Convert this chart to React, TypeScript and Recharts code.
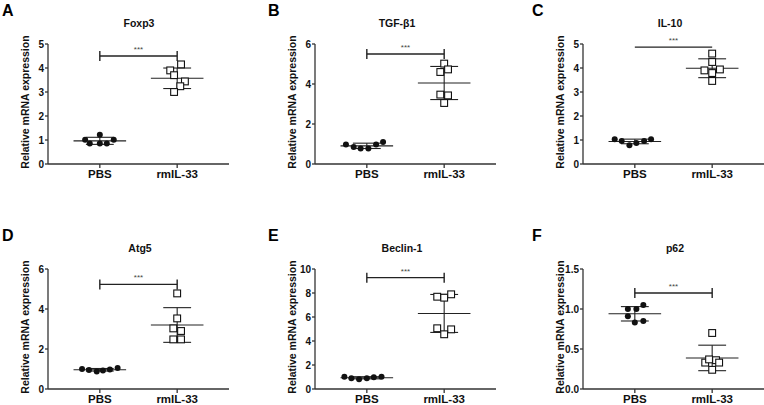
import React from "react";
import {
  ScatterChart,
  Scatter,
  XAxis,
  YAxis,
  ReferenceLine,
  ReferenceDot,
} from "recharts";

const groups = ["PBS", "rmIL-33"];

// values, one point per mouse
const foxp3Pbs = [1.01, 0.85, 1.22, 0.85, 0.85, 1.01];
const foxp3Rm = [3.9, 4.15, 3.7, 3.44, 3.24, 3.0];
const tgfPbs = [0.98, 0.85, 0.77, 0.77, 0.98, 1.1];
const tgfRm = [5.02, 4.6, 4.73, 3.47, 3.43, 3.05];
const il10Pbs = [1.03, 0.96, 0.78, 0.88, 0.96, 1.03];
const il10Rm = [4.6, 4.25, 3.9, 3.79, 3.94, 3.46];
const atg5Pbs = [1.0, 0.95, 0.87, 0.92, 0.98, 1.05];
const atg5Rm = [4.78, 3.53, 3.03, 2.9, 2.48, 2.48];
const beclinPbs = [1.03, 0.89, 0.81, 0.89, 0.97, 1.03];
const beclinRm = [7.69, 7.61, 7.89, 5.06, 4.97, 4.56];
const p62Pbs = [1.0, 1.0, 1.05, 0.91, 0.83, 0.85];
const p62Rm = [0.7, 0.33, 0.37, 0.36, 0.33, 0.24];

// horizontal scatter of the points around each group
const foxp3PbsJit = [-0.19, -0.13, 0, 0, 0.09, 0.18];
const foxp3RmJit = [-0.09, 0.05, -0.04, 0.1, 0.04, -0.04];
const tgfPbsJit = [-0.27, -0.17, -0.08, 0.02, 0.12, 0.21];
const tgfRmJit = [0, -0.05, 0.05, -0.05, 0.05, 0];
const il10PbsJit = [-0.26, -0.17, -0.07, 0.02, 0.12, 0.21];
const il10RmJit = [0, 0, -0.1, 0, 0.1, 0];
const atg5PbsJit = [-0.23, -0.14, -0.04, 0.04, 0.13, 0.23];
const atg5RmJit = [0, 0, -0.05, 0.05, -0.05, 0.05];
const beclinPbsJit = [-0.29, -0.2, -0.1, 0, 0.09, 0.19];
const beclinRmJit = [-0.09, 0, 0.09, -0.09, 0.09, 0];
const p62PbsJit = [-0.09, 0.02, 0.11, -0.09, 0, 0.11];
const p62RmJit = [0, -0.09, -0.04, 0.05, 0.09, 0];

const ticks5 = [0, 1, 2, 3, 4, 5];
const ticks6 = [0, 2, 4, 6];
const ticks10 = [0, 2, 4, 6, 8, 10];
const ticks15 = [0, 0.5, 1.0, 1.5];

const titles = ["Foxp3", "TGF-\u03b21", "IL-10", "Atg5", "Beclin-1", "p62"];
const letters = ["A", "B", "C", "D", "E", "F"];
const bracketLevels = [4.5, 5.5, 4.87, 5.23, 9.28, 1.2];

const FONT = "'Liberation Sans', Arial, Helvetica, sans-serif";

const panels = [
  { pbs: foxp3Pbs, rm: foxp3Rm, pj: foxp3PbsJit, rj: foxp3RmJit, ticks: ticks5, left: 0, top: 0, titleX: 139 },
  { pbs: tgfPbs, rm: tgfRm, pj: tgfPbsJit, rj: tgfRmJit, ticks: ticks6, left: 267, top: 0, titleX: 397 },
  { pbs: il10Pbs, rm: il10Rm, pj: il10PbsJit, rj: il10RmJit, ticks: ticks5, left: 535, top: 0, titleX: 670 },
  { pbs: atg5Pbs, rm: atg5Rm, pj: atg5PbsJit, rj: atg5RmJit, ticks: ticks6, left: 0, top: 225, titleX: 140 },
  { pbs: beclinPbs, rm: beclinRm, pj: beclinPbsJit, rj: beclinRmJit, ticks: ticks10, left: 267, top: 225, titleX: 402 },
  { pbs: p62Pbs, rm: p62Rm, pj: p62PbsJit, rj: p62RmJit, ticks: ticks15, left: 535, top: 225, titleX: 675, decimals: 1 },
];

const mean = (a: number[]) => a.reduce((s, v) => s + v, 0) / a.length;
const sd = (a: number[]) => {
  const m = mean(a);
  return Math.sqrt(a.reduce((s, v) => s + (v - m) ** 2, 0) / (a.length - 1));
};

const Dot = (props: any) => <circle cx={props.cx} cy={props.cy} r={3} fill="#111" />;
const Square = (props: any) => (
  <rect x={props.cx - 3.4} y={props.cy - 3.4} width={6.8} height={6.8} fill="#fff" stroke="#111" strokeWidth={1.1} />
);

const YLabel = (props: any) => {
  const vb = props.viewBox || {};
  const cx = 25;
  const cy = (vb.y ?? 44) + (vb.height ?? 120) / 2 - 2;
  return (
    <text
      x={cx}
      y={cy}
      transform={`rotate(-90 ${cx} ${cy})`}
      textAnchor="middle"
      dominantBaseline="central"
      style={{ fontSize: 10.5, fontWeight: 700, fill: "#111", fontFamily: FONT }}
    >
      Relative mRNA expression
    </text>
  );
};

const lineStyle = { stroke: "#222", strokeWidth: 1.1 };

function meanSd(values: number[], center: number, key: string) {
  const m = mean(values);
  const s = sd(values);
  return [
    <ReferenceLine key={key + "m"} segment={[{ x: center - 0.34, y: m }, { x: center + 0.34, y: m }]} {...lineStyle} />,
    <ReferenceLine key={key + "v"} segment={[{ x: center, y: m - s }, { x: center, y: m + s }]} {...lineStyle} />,
    <ReferenceLine key={key + "t"} segment={[{ x: center - 0.18, y: m + s }, { x: center + 0.18, y: m + s }]} {...lineStyle} />,
    <ReferenceLine key={key + "b"} segment={[{ x: center - 0.18, y: m - s }, { x: center + 0.18, y: m - s }]} {...lineStyle} />,
  ];
}

function Panel({ idx }: { idx: number }) {
  const p = panels[idx];
  const max = p.ticks[p.ticks.length - 1];
  const br = bracketLevels[idx];
  const cap = (max * 5) / 120;
  const pbsData = p.pbs.map((v, i) => ({ x: 1 + p.pj[i], y: v }));
  const rmData = p.rm.map((v, i) => ({ x: 2 + p.rj[i], y: v }));
  const xTick = { fontSize: 11.5, fontWeight: 700, fill: "#111", fontFamily: FONT };
  const yTick = { fontSize: 10, fontWeight: 700, fill: "#111", fontFamily: FONT };

  return (
    <>
      <div
        style={{
          position: "absolute",
          left: p.left + (idx % 3 === 0 ? 2 : idx % 3 === 1 ? 1 : -3),
          top: p.top + 3,
          fontFamily: FONT,
          fontWeight: 700,
          fontSize: 16,
          lineHeight: "16px",
          color: "#000",
        }}
      >
        {letters[idx]}
      </div>
      <div
        style={{
          position: "absolute",
          left: p.titleX - 60,
          width: 120,
          textAlign: "center",
          top: p.top + 17,
          fontFamily: FONT,
          fontWeight: 700,
          fontSize: 10.5,
          lineHeight: "12px",
          color: "#111",
        }}
      >
        {titles[idx]}
      </div>
      <div style={{ position: "absolute", left: p.left, top: p.top }}>
        <ScatterChart width={250} height={200} margin={{ top: 44, right: 21, bottom: 6, left: 0 }}>
          <XAxis
            dataKey="x"
            type="number"
            domain={[0.33, 2.67]}
            ticks={[1, 2]}
            tickFormatter={(v: number) => groups[Math.round(v) - 1]}
            allowDataOverflow
            height={30}
            tickSize={4}
            tickMargin={2}
            stroke="#333"
            strokeWidth={1.3}
            tick={xTick}
          />
          <YAxis
            dataKey="y"
            type="number"
            domain={[0, max]}
            ticks={p.ticks}
            tickFormatter={(v: number) => (p.decimals ? v.toFixed(p.decimals) : String(v))}
            width={48}
            tickSize={3}
            tickMargin={1}
            stroke="#333"
            strokeWidth={1.3}
            tick={yTick}
            label={<YLabel />}
          />
          <ReferenceLine segment={[{ x: 1, y: br }, { x: 2, y: br }]} stroke="#222" strokeWidth={1.4} />
          <ReferenceLine segment={[{ x: 1, y: br - cap }, { x: 1, y: br + cap }]} stroke="#222" strokeWidth={1.4} />
          <ReferenceLine segment={[{ x: 2, y: br - cap }, { x: 2, y: br + cap }]} stroke="#222" strokeWidth={1.4} />
          <ReferenceDot
            x={1.5}
            y={br}
            r={1}
            fill="none"
            stroke="none"
            label={{ value: "***", position: "top", offset: 3, style: { fontSize: 8, fill: "#444", fontFamily: FONT } }}
          />
          {meanSd(p.pbs, 1, "p")}
          {meanSd(p.rm, 2, "r")}
          <Scatter data={pbsData} shape={Dot} isAnimationActive={false} />
          <Scatter data={rmData} shape={Square} isAnimationActive={false} />
        </ScatterChart>
      </div>
    </>
  );
}

export default function App() {
  return (
    <div
      style={{
        position: "absolute",
        left: 0,
        top: 0,
        width: 764,
        height: 405,
        overflow: "hidden",
        background: "#fff",
      }}
    >
      {panels.map((_, i) => (
        <Panel key={i} idx={i} />
      ))}
    </div>
  );
}
